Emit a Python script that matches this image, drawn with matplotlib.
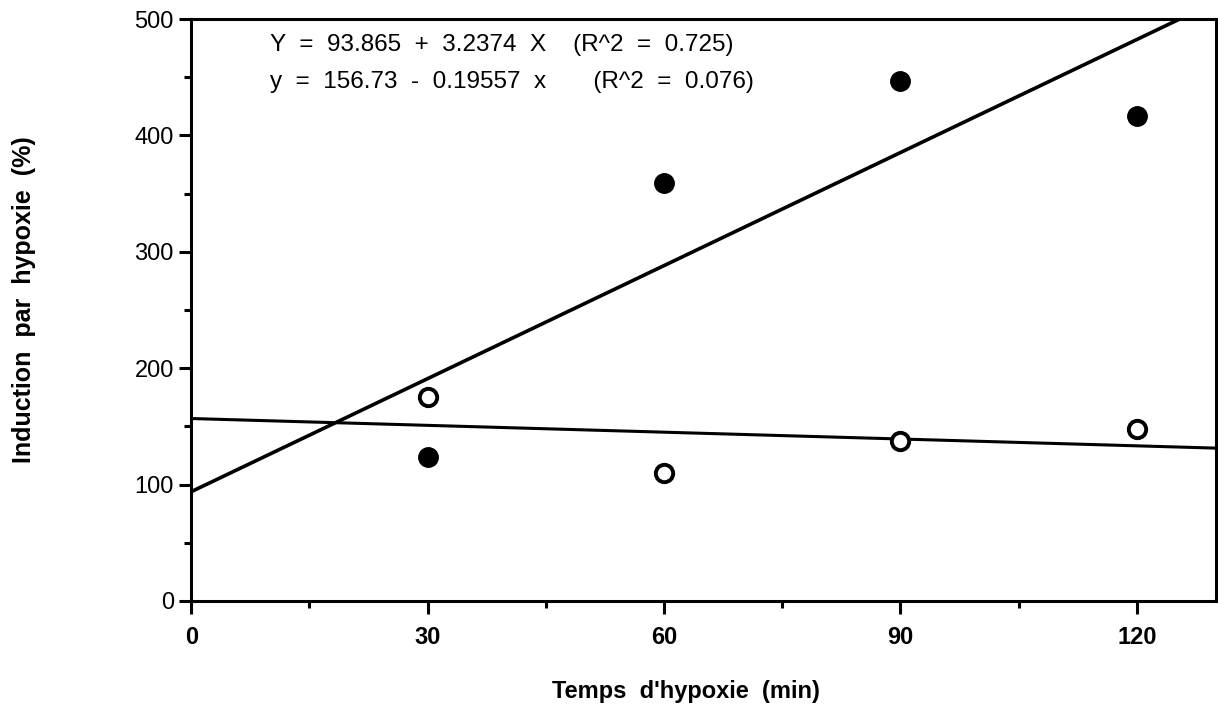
import matplotlib
matplotlib.use('Agg')
import matplotlib.pyplot as plt
from matplotlib.ticker import MultipleLocator
import numpy as np

plt.rcParams['font.family'] = ['Liberation Sans', 'DejaVu Sans']

# time of hypoxia (min)
temps = [30, 60, 90, 120]
# filled circles and open circles
induction_pleins = [124, 359, 447, 417]
induction_vides = [175, 110, 137, 148]

# regression lines as printed on the chart
fit_pleins = (93.865, 3.2374)
fit_vides = (156.73, -0.19557)
eq_pleins = 'Y  =  93.865  +  3.2374  X    (R^2  =  0.725)'
eq_vides = 'y  =  156.73  -  0.19557  x       (R^2  =  0.076)'

fig = plt.figure(figsize=(12.18, 7.12), dpi=100)
ax = fig.add_axes([0.157, 0.156, 0.841, 0.8173])

xx = np.array([0, 130])
ax.plot(xx, fit_pleins[0] + fit_pleins[1] * xx, color='black', lw=2.6, zorder=2)
ax.plot(xx, fit_vides[0] + fit_vides[1] * xx, color='black', lw=2.2, zorder=2)

ax.plot(temps, induction_pleins, 'o', color='black', ms=14, zorder=3)
ax.plot(temps, induction_vides, 'o', mfc='white', mec='black', mew=2.8, ms=12.5, zorder=3)

ax.set_xlim(0, 130)
ax.set_ylim(0, 500)
ax.xaxis.set_major_locator(MultipleLocator(30))
ax.xaxis.set_minor_locator(MultipleLocator(15))
ax.yaxis.set_major_locator(MultipleLocator(100))
ax.yaxis.set_minor_locator(MultipleLocator(50))
ax.tick_params(which='major', direction='out', length=9, width=2.2, labelsize=17)
ax.tick_params(which='minor', direction='out', length=5, width=2.2)
ax.tick_params(axis='x', pad=9, labelsize=17)
for lab in ax.get_xticklabels():
    lab.set_fontweight('bold')
for s in ax.spines.values():
    s.set_linewidth(2.2)

ax.text(0.077, 0.955, eq_pleins, transform=ax.transAxes, fontsize=17.5, va='center')
ax.text(0.077, 0.892, eq_vides, transform=ax.transAxes, fontsize=17.5, va='center')

ax.set_xlabel("Temps  d'hypoxie  (min)", fontsize=17, fontweight='bold', va='center')
ax.set_ylabel('Induction  par  hypoxie  (%)', fontsize=18, fontweight='bold', va='center')
ax.xaxis.set_label_coords(0.483, -0.155)
ax.yaxis.set_label_coords(-0.163, 0.517)

fig.savefig('out.png', dpi=100)
